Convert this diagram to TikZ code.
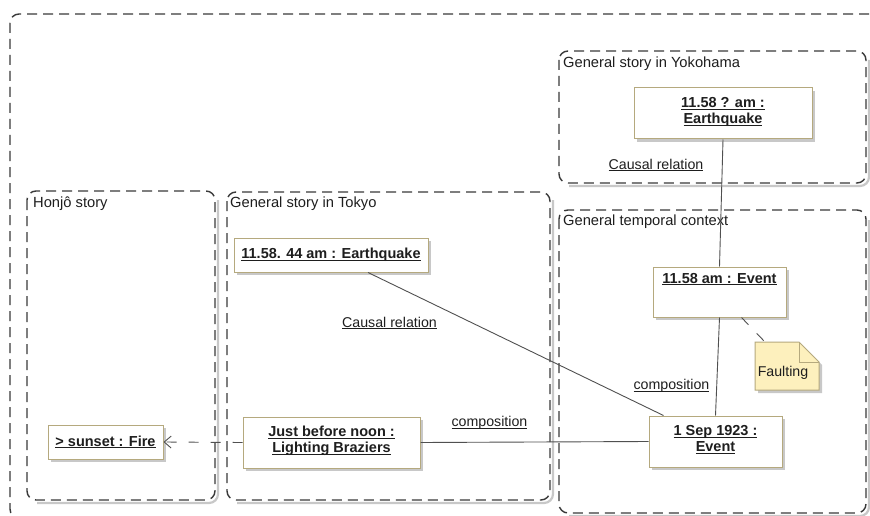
\documentclass[tikz,border=0pt]{standalone}
\usepackage{fontspec}
\setmainfont{Liberation Sans}
\usetikzlibrary{arrows.meta,shadows,calc}
\definecolor{nodeborder}{HTML}{B5A97E}
\definecolor{notefill}{HTML}{FDF0BD}
\definecolor{framecol}{HTML}{3A3A3A}
\definecolor{linecol}{HTML}{505050}
\definecolor{shadowcol}{HTML}{C8C8C8}
\definecolor{txtcol}{HTML}{1E1E1E}
\newcommand{\myul}[1]{\setbox0\hbox{#1}\rlap{\rule[-2pt]{\wd0}{0.9pt}}\box0}
\newcommand{\lift}{\\[-10pt]\mbox{}}
\begin{document}
\begin{tikzpicture}[x=1pt,y=-1pt,
  frame/.style={draw=framecol, line width=1.4pt, dash pattern=on 10pt off 6pt, rounded corners=9pt},
  fshadow/.style={draw=shadowcol, line width=2.2pt, rounded corners=9pt},
  obj/.style={draw=nodeborder, line width=1pt, fill=white, align=center, text=txtcol,
    font=\bfseries\fontsize{14.5}{16}\selectfont, inner sep=0pt,
    drop shadow={shadow xshift=3pt, shadow yshift=-3pt, fill=shadowcol, opacity=1}},
  ftitle/.style={anchor=west, inner sep=0pt, text=txtcol, font=\fontsize{14.7}{16}\selectfont},
  lbl/.style={inner sep=0pt, text=txtcol, font=\fontsize{14.2}{16}\selectfont},
  conn/.style={draw=linecol, line width=0.9pt},
]
\useasboundingbox (0,0) rectangle (870,516);
\fill[white] (0,0) rectangle (870,516);

% outer frame
\draw[frame] (10,14) rectangle (890,518);

% frame shadows
\draw[fshadow] (218,200) -- (218,503) -- (37,503);
\draw[fshadow] (553,200) -- (553,503) -- (237,503);
\draw[fshadow] (869,60) -- (869,186) -- (569,186);
\draw[fshadow] (869,220) -- (869,516) -- (569,516);

% frames
\draw[frame] (27,191) rectangle (215,500);
\draw[frame] (227,192) rectangle (550,500);
\draw[frame] (559,51) rectangle (866,183);
\draw[frame] (559,210) rectangle (866,513);

\node[ftitle] (tHonjo) at (33,204) {Honjô story};
\node[ftitle] (tTokyo) at (230,204) {General story in Tokyo};
\node[ftitle] (tYoko) at (563,64) {General story in Yokohama};
\node[ftitle] (tTemp) at (563,222) {General temporal context};

% objects
\node[obj, minimum width=178pt, minimum height=51pt] (yoko) at (723,113.5) {\myul{11.58 ? am :}\\\myul{Earthquake}\lift};
\node[obj, minimum width=133pt, minimum height=50pt] (ev1158) at (719.5,292) {};
\node[lbl, font=\bfseries\fontsize{14.5}{16}\selectfont] (ev1158t) at (719.5,279) {\myul{11.58 am : Event}};
\node[obj, minimum width=133pt, minimum height=51pt] (sep1) at (715.5,441.5) {\myul{1 Sep 1923 :}\\\myul{Event}\lift};
\node[obj, minimum width=194pt, minimum height=34pt] (tokyoEq) at (331,255) {\myul{11.58. 44 am : Earthquake}};
\node[obj, minimum width=177pt, minimum height=51pt] (brazier) at (331.5,442.5) {\myul{Just before noon :}\\\myul{Lighting Braziers}\lift};
\node[obj, minimum width=115pt, minimum height=34pt] (fire) at (105.5,442) {\myul{> sunset : Fire}};

% note
\fill[shadowcol] (758,345) -- (802,345) -- (822,365) -- (822,393) -- (758,393) -- cycle;
\draw[draw=nodeborder, line width=1pt, fill=notefill] (755,342) -- (799,342) -- (819,362) -- (819,390) -- (755,390) -- cycle;
\draw[draw=nodeborder, line width=1pt] (799,342) -- (799,362) -- (819,362);
\node[lbl] (note) at (783,373) {Faulting};
\coordinate (noteA) at (765,342);

% connectors
\draw[conn] (yoko.south) -- (ev1158.north);
\draw[conn] (ev1158.south) -- (sep1.north);
\draw[conn] ([xshift=37pt]tokyoEq.south) -- ([xshift=-52pt]sep1.north);
\draw[conn] (brazier.east) -- (sep1.west);
\draw[conn, dash pattern=on 10pt off 12pt, -{Straight Barb[length=7pt,width=12pt]}] (brazier.west) -- (fire.east);
\draw[conn, dash pattern=on 10pt off 12pt] ([xshift=22pt]ev1158.south) -- (noteA);

% connector labels
\node[lbl] (cr1) at (656,165) {\myul{Causal relation}};
\node[lbl] (cr2) at (389.5,323) {\myul{Causal relation}};
\node[lbl] (cp1) at (671.5,386) {\myul{composition}};
\node[lbl] (cp2) at (489.5,423) {\myul{composition}};
\end{tikzpicture}
\end{document}
